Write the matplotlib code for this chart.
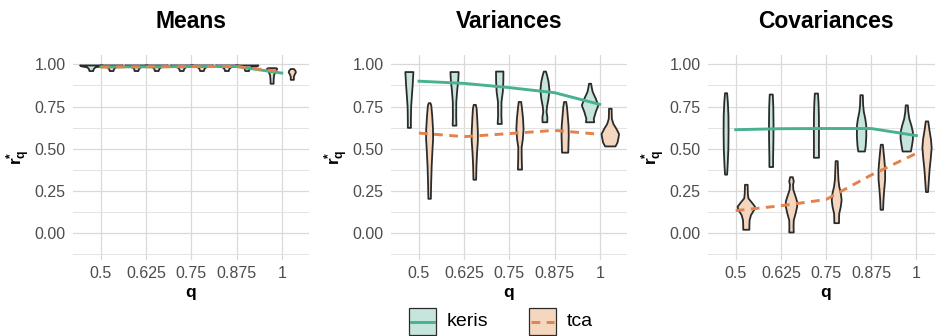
import numpy as np
import matplotlib.pyplot as plt
from matplotlib.patches import Rectangle
from matplotlib.lines import Line2D

plt.rcParams['font.family'] = ['Liberation Sans', 'DejaVu Sans']
plt.rcParams['mathtext.fontset'] = 'custom'
plt.rcParams['mathtext.rm'] = 'Liberation Sans'
plt.rcParams['mathtext.bf'] = 'Liberation Sans:bold'
plt.rcParams['mathtext.it'] = 'Liberation Sans:italic'

# --- data ---
q_vals = [0.5, 0.625, 0.75, 0.875, 1.0]
q_labels = ["0.5", "0.625", "0.75", "0.875", "1"]
methods = ["keris", "tca"]
panels = ["Means", "Variances", "Covariances"]

# mean r*_q per method, connected by lines
line_means = {
    "Means":       {"keris": [0.985, 0.985, 0.987, 0.987, 0.948],
                    "tca":   [0.984, 0.985, 0.986, 0.987, 0.956]},
    "Variances":   {"keris": [0.900, 0.887, 0.862, 0.832, 0.763],
                    "tca":   [0.593, 0.572, 0.590, 0.609, 0.586]},
    "Covariances": {"keris": [0.613, 0.619, 0.620, 0.620, 0.578],
                    "tca":   [0.134, 0.163, 0.200, 0.345, 0.473]},
}

# violin profiles: (r*_q levels, density) for every q
flat_y = [0.963, 0.975, 0.985, 0.990, 0.996]
flat_d = [1.8, 2.4, 4.0, 9.0, 11.0]
violins = {
    "Means": {
        "keris": [(flat_y, flat_d)] * 4 + [
            ([0.888, 0.91, 0.94, 0.96, 0.975, 0.98], [1.5, 1.5, 2.0, 3.5, 5.0, 4.0])],
        "tca": [(flat_y, flat_d)] * 4 + [
            ([0.911, 0.93, 0.945, 0.955, 0.965, 0.975], [1.5, 1.5, 2.5, 3.5, 3.0, 1.5])],
    },
    "Variances": {
        "keris": [
            ([0.627, 0.67, 0.75, 0.82, 0.89, 0.957], [1.5, 1.5, 1.7, 2.5, 3.3, 3.9]),
            ([0.64, 0.70, 0.78, 0.85, 0.91, 0.957], [1.8, 1.6, 1.7, 2.6, 3.6, 4.0]),
            ([0.65, 0.70, 0.78, 0.84, 0.90, 0.96], [2.0, 1.6, 1.7, 3.0, 3.5, 3.6]),
            ([0.66, 0.69, 0.72, 0.75, 0.80, 0.85, 0.90, 0.94, 0.96],
             [2.3, 2.4, 1.6, 2.0, 3.5, 4.4, 3.5, 2.0, 1.0]),
            ([0.66, 0.68, 0.72, 0.76, 0.80, 0.84, 0.87, 0.888],
             [4.0, 3.6, 5.5, 8.0, 5.5, 2.5, 1.5, 1.0]),
        ],
        "tca": [
            ([0.207, 0.30, 0.40, 0.50, 0.56, 0.62, 0.70, 0.76, 0.773],
             [1.2, 1.5, 2.0, 2.8, 3.4, 3.3, 2.5, 1.6, 0.8]),
            ([0.32, 0.40, 0.48, 0.55, 0.60, 0.68, 0.74, 0.763],
             [1.3, 1.6, 2.2, 3.0, 3.0, 2.4, 1.8, 1.0]),
            ([0.38, 0.45, 0.51, 0.56, 0.62, 0.68, 0.74, 0.78],
             [2.0, 1.7, 1.6, 2.8, 3.5, 3.0, 2.0, 1.2]),
            ([0.48, 0.52, 0.58, 0.64, 0.70, 0.75, 0.78], [3.0, 3.2, 3.5, 3.3, 2.5, 1.8, 1.0]),
            ([0.517, 0.54, 0.57, 0.59, 0.62, 0.65, 0.68, 0.72, 0.74],
             [5.0, 7.0, 8.0, 8.5, 6.0, 3.0, 1.5, 1.3, 1.3]),
        ],
    },
    "Covariances": {
        "keris": [
            ([0.35, 0.40, 0.50, 0.60, 0.70, 0.78, 0.832], [1.0, 1.5, 2.2, 2.4, 2.3, 1.7, 1.0]),
            ([0.395, 0.45, 0.55, 0.65, 0.75, 0.824], [1.8, 1.8, 2.1, 2.2, 2.0, 1.5]),
            ([0.45, 0.52, 0.60, 0.70, 0.78, 0.83], [2.5, 2.4, 2.5, 2.4, 2.0, 1.5]),
            ([0.487, 0.52, 0.58, 0.64, 0.68, 0.72, 0.76, 0.82],
             [3.2, 4.0, 4.6, 4.5, 3.6, 2.2, 1.5, 1.2]),
            ([0.487, 0.52, 0.56, 0.60, 0.64, 0.68, 0.72, 0.76],
             [4.0, 5.0, 6.0, 6.0, 4.5, 2.5, 1.5, 1.0]),
        ],
        "tca": [
            ([0.024, 0.05, 0.08, 0.11, 0.14, 0.16, 0.18, 0.21, 0.24, 0.29],
             [3.0, 3.0, 3.2, 4.5, 7.5, 8.5, 6.0, 2.0, 1.5, 1.3]),
            ([0.008, 0.04, 0.08, 0.12, 0.16, 0.19, 0.22, 0.26, 0.29, 0.31, 0.335],
             [2.2, 2.0, 2.2, 4.0, 5.5, 5.5, 4.0, 1.8, 1.5, 2.2, 1.3]),
            ([0.063, 0.09, 0.12, 0.16, 0.20, 0.24, 0.28, 0.32, 0.38, 0.43],
             [2.3, 2.3, 2.5, 4.0, 4.8, 4.0, 2.5, 1.7, 1.3, 1.0]),
            ([0.142, 0.20, 0.26, 0.32, 0.38, 0.44, 0.49, 0.527],
             [1.2, 1.6, 2.3, 3.2, 3.2, 2.4, 1.6, 1.0]),
            ([0.247, 0.30, 0.38, 0.45, 0.51, 0.56, 0.62, 0.665],
             [1.0, 1.6, 2.5, 3.7, 4.5, 3.8, 2.2, 1.2]),
        ],
    },
}

# --- styles ---
line_col = {"keris": "#49b192", "tca": "#e3824a"}
fill_col = {"keris": "#c6e6dd", "tca": "#f5d7c0"}
line_style = {"keris": "-", "tca": (0, (3, 2.2))}
dodge = {"keris": -0.028, "tca": 0.028}
dens_scale = 0.00285
edge = "#2b2b2b"
tick_col = "#4d4d4d"

W, H = 935, 336
fig = plt.figure(figsize=(W / 100, H / 100), dpi=100)
lefts = [72.8, 390.8, 707.5]
ax_w = 236
bottom_px, top_px = 259.5, 55

for name, left in zip(panels, lefts):
    ax = fig.add_axes([left / W, 1 - bottom_px / H, ax_w / W, (bottom_px - top_px) / H])
    ax.set_xlim(0.422, 1.075)
    ax.set_ylim(-0.155, 1.055)
    ax.set_xticks(q_vals)
    ax.set_xticklabels(q_labels)
    ax.set_yticks([0, 0.25, 0.5, 0.75, 1.0])
    ax.set_yticklabels(["0.00", "0.25", "0.50", "0.75", "1.00"])
    ax.set_yticks([-0.125, 0.125, 0.375, 0.625, 0.875], minor=True)
    ax.grid(True, which="major", color="#d9d9d9", lw=0.9)
    ax.grid(True, which="minor", axis="y", color="#e3e3e3", lw=0.7)
    ax.set_axisbelow(True)
    for s in ax.spines.values():
        s.set_visible(False)
    ax.tick_params(which="both", length=0, labelsize=11.5, labelcolor=tick_col, pad=5)

    for m in methods:
        for q, (ys, dens) in zip(q_vals, violins[name][m]):
            c = q + dodge[m]
            d = np.array(dens) * dens_scale
            ax.fill_betweenx(ys, c - d, c + d, facecolor=fill_col[m],
                             edgecolor=edge, lw=1.3, zorder=2)
    for m in methods:
        ax.plot(q_vals, line_means[name][m], color=line_col[m], ls=line_style[m],
                lw=2.1, zorder=3)

    ax.set_title(name, fontsize=16.5, fontweight="bold", pad=0,
                 y=1 + (top_px - 22) / (bottom_px - top_px), va="center")
    ax.set_xlabel("q", fontsize=12.5, fontweight="bold")
    ax.xaxis.set_label_coords(0.5, -(293 - bottom_px) / (bottom_px - top_px))
    ax.xaxis.label.set_va("center")
    ax.set_ylabel(r"$\mathbf{r}^{\mathbf{*}}_{\mathbf{q}}$", fontsize=12.5)
    ax.yaxis.set_label_coords(-54 / ax_w, 0.5)
    ax.yaxis.label.set_va("center")

# legend along the bottom
for m, x0 in zip(methods, [409, 529]):
    fig.add_artist(Rectangle((x0 / W, 1 - 335 / H), 27 / W, 27 / H, transform=fig.transFigure,
                             facecolor=fill_col[m], edgecolor=edge, lw=0.9))
    fig.add_artist(Line2D([(x0 + 2) / W, (x0 + 25) / W], [1 - 321.5 / H] * 2,
                          transform=fig.transFigure, color=line_col[m], ls=line_style[m], lw=2.1))
    fig.text((x0 + 38) / W, 1 - 322 / H, m, fontsize=14, va="center", ha="left")

fig.savefig("out.png", dpi=100)
